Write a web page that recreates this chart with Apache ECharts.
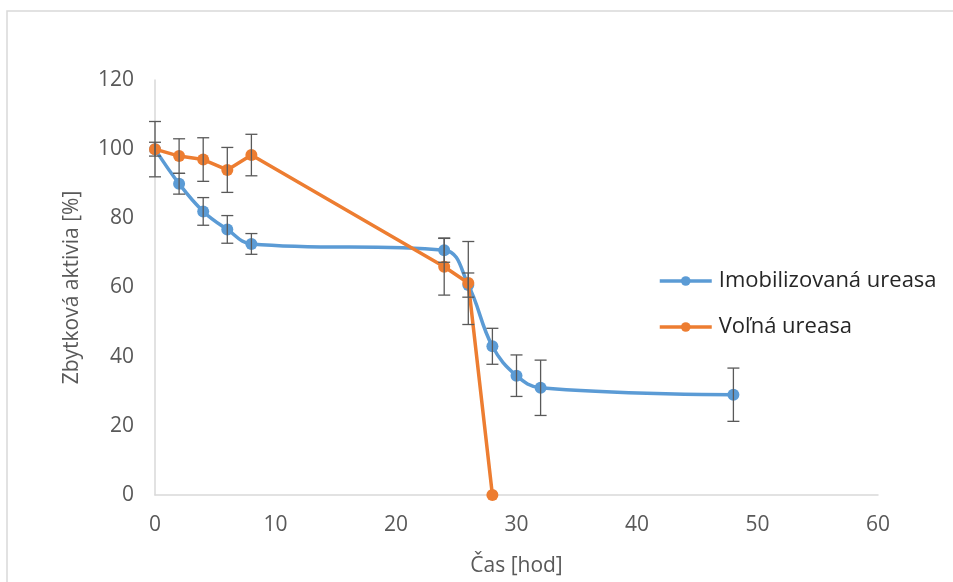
<!DOCTYPE html>
<html>
<head>
<meta charset="utf-8">
<script src="https://cdn.jsdelivr.net/npm/echarts@6/dist/echarts.min.js"></script>
<style>
  html, body { margin: 0; padding: 0; background: #fff; }
  #main { width: 953px; height: 582px; }
</style>
</head>
<body>
<div id="main"></div>
<script>
// cas [hod]
var casImob = [0, 2, 4, 6, 8, 24, 26, 28, 30, 32, 48];
var aktImob = [100, 90, 82, 76.8, 72.6, 70.8, 60.7, 43, 34.5, 31, 29];
var errImob = [2, 3, 4, 4, 3, 3.5, 3.5, 5.2, 6, 8, 7.7];

var casVolna = [0, 2, 4, 6, 8, 24, 26, 28];
var aktVolna = [100, 98, 97, 94, 98.3, 66, 61.3, 0];
var errVolna = [8, 5, 6.3, 6.5, 6, 8.2, 12, 0];

var nazvy = ['Imobilizovaná ureasa', 'Voľná ureasa'];
var xTicks = [0, 60, 10];
var yTicks = [0, 120, 20];

var modra = '#5B9BD5';
var oranzova = '#ED7D31';
var sedaText = '#595959';

function pary(xs, ys) {
    return xs.map(function (x, i) { return [x, ys[i]]; });
}
function chyby(xs, ys, es) {
    return xs.map(function (x, i) { return [x, ys[i], es[i]]; });
}

// chybove usecky (error bars)
function kresliChybu(params, api) {
    var x = api.value(0), y = api.value(1), e = api.value(2);
    if (!e) return;
    var hore = api.coord([x, y + e]);
    var dole = api.coord([x, y - e]);
    var w = 6;
    var st = { stroke: '#595959', lineWidth: 1.3 };
    return {
        type: 'group',
        children: [
            { type: 'line', shape: { x1: hore[0], y1: hore[1], x2: dole[0], y2: dole[1] }, style: st },
            { type: 'line', shape: { x1: hore[0] - w, y1: hore[1], x2: hore[0] + w, y2: hore[1] }, style: st },
            { type: 'line', shape: { x1: dole[0] - w, y1: dole[1], x2: dole[0] + w, y2: dole[1] }, style: st }
        ]
    };
}

var myChart = echarts.init(document.getElementById('main'));
var option = {
    animation: false,
    backgroundColor: '#fff',
    textStyle: { fontFamily: 'Open Sans' },
    graphic: [{
        type: 'rect',
        shape: { x: 7, y: 11, width: 1000, height: 700 },
        style: { fill: 'none', stroke: '#d9d9d9', lineWidth: 1.5 },
        silent: true
    }],
    grid: { left: 155, right: 75, top: 80, bottom: 87 },
    legend: {
        orient: 'vertical',
        left: 653,
        top: 263,
        itemWidth: 52,
        itemHeight: 12,
        itemGap: 20,
        data: nazvy,
        lineStyle: { width: 3.5 },
        textStyle: { fontSize: 22, color: '#262626', lineHeight: 26, fontFamily: 'Open Sans', padding: [0, 0, 0, 2] }
    },
    xAxis: {
        type: 'value',
        min: xTicks[0], max: xTicks[1], interval: xTicks[2],
        name: 'Čas [hod]',
        nameLocation: 'middle',
        nameGap: 61,
        nameTextStyle: { fontSize: 21, color: sedaText },
        axisLine: { show: true, lineStyle: { color: '#d9d9d9', width: 1.5 } },
        axisTick: { show: false },
        splitLine: { show: false },
        axisLabel: { fontSize: 21, color: sedaText, margin: 20 }
    },
    yAxis: {
        type: 'value',
        min: yTicks[0], max: yTicks[1], interval: yTicks[2],
        name: 'Zbytková aktivia [%]',
        nameLocation: 'middle',
        nameGap: 72,
        nameTextStyle: { fontSize: 21, color: sedaText },
        axisLine: { show: true, lineStyle: { color: '#d9d9d9', width: 1.5 } },
        axisTick: { show: false },
        splitLine: { show: false },
        axisLabel: { fontSize: 21, color: sedaText, margin: 21 }
    },
    series: [
        {
            name: nazvy[0],
            type: 'line',
            smooth: 0.4,
            data: pary(casImob, aktImob),
            symbol: 'circle',
            symbolSize: 12,
            itemStyle: { color: modra },
            lineStyle: { color: modra, width: 3.5 },
            z: 2
        },
        {
            name: nazvy[1],
            type: 'line',
            data: pary(casVolna, aktVolna),
            symbol: 'circle',
            symbolSize: 12,
            itemStyle: { color: oranzova },
            lineStyle: { color: oranzova, width: 3.5 },
            z: 3
        },
        {
            type: 'custom',
            renderItem: kresliChybu,
            data: chyby(casImob, aktImob, errImob),
            encode: { x: 0, y: 1 },
            z: 5,
            silent: true
        },
        {
            type: 'custom',
            renderItem: kresliChybu,
            data: chyby(casVolna, aktVolna, errVolna),
            encode: { x: 0, y: 1 },
            z: 5,
            silent: true
        }
    ]
};
myChart.setOption(option);
</script>
</body>
</html>
